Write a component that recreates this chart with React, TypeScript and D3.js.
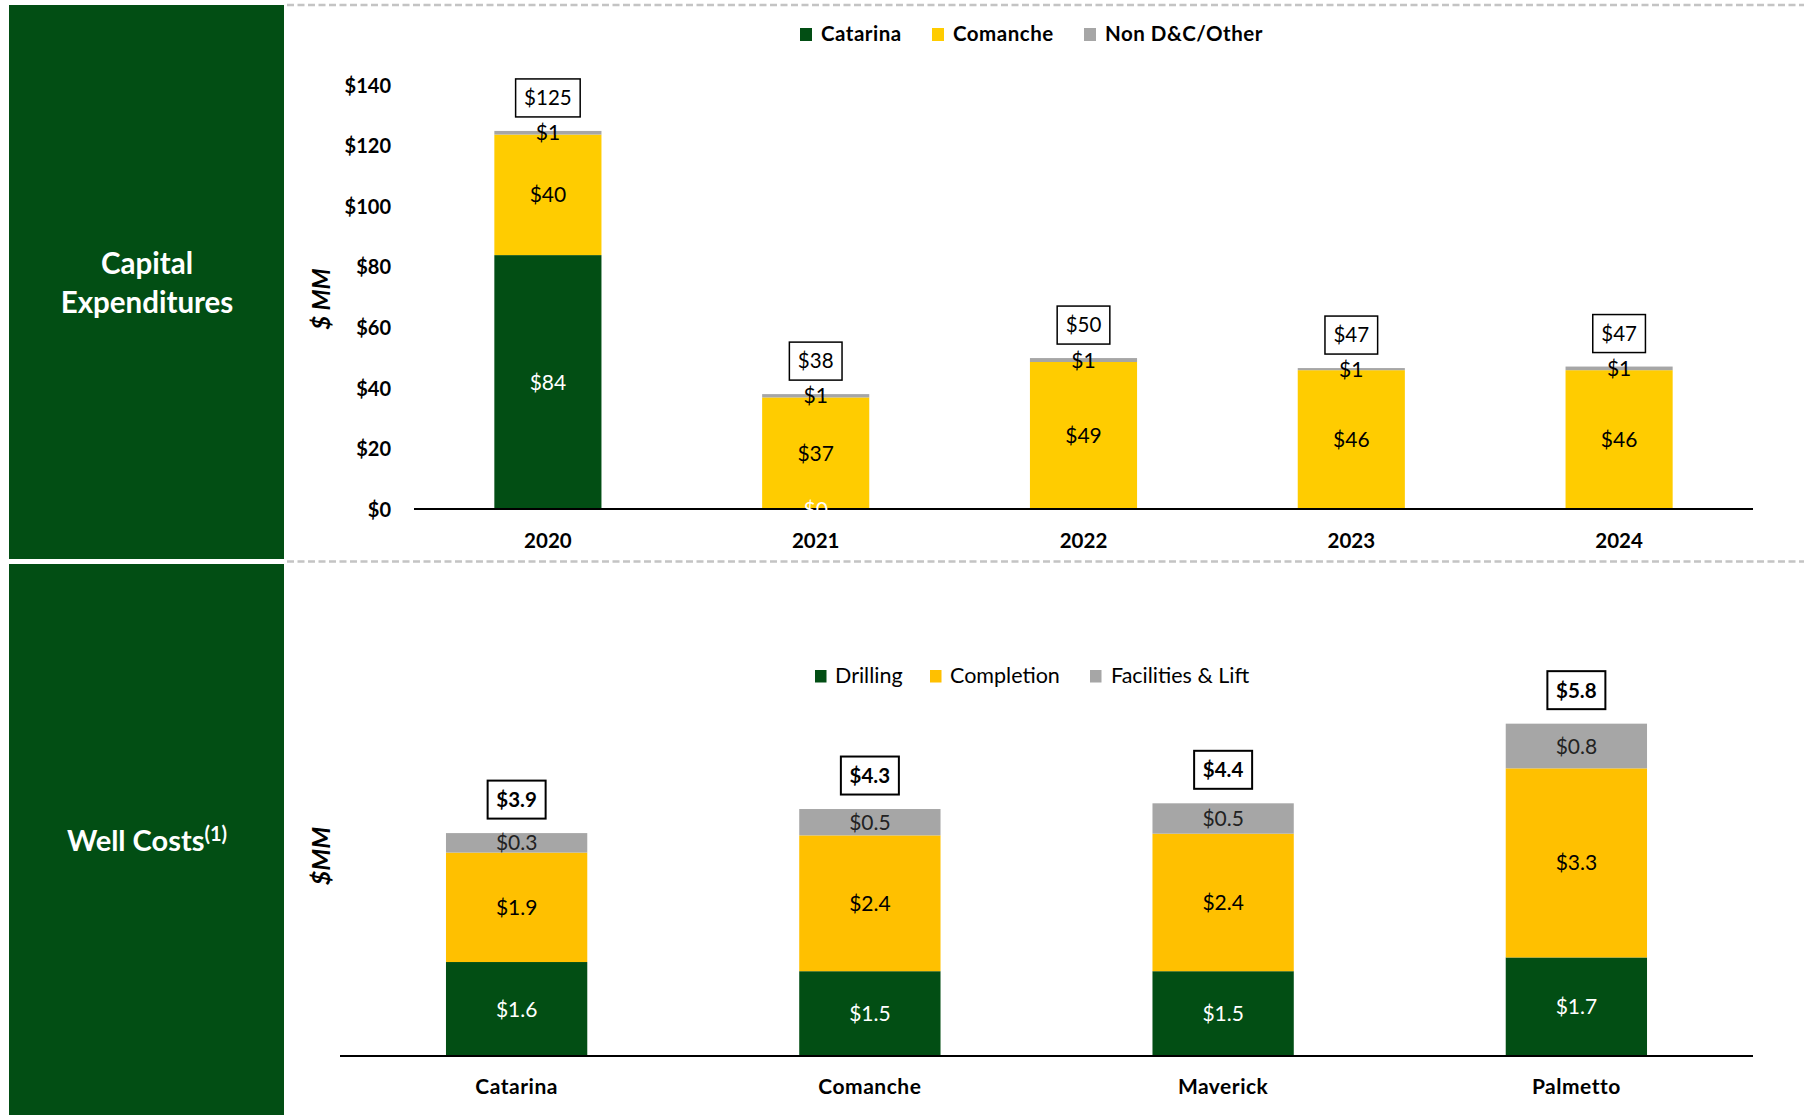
import React from "react";
import * as d3 from "d3";

// ---------- Data ----------
const years = ["2020", "2021", "2022", "2023", "2024"];
const catarina: (number | null)[] = [84, 0, null, null, null];
const comanche = [39.8, 37, 48.7, 46, 46.0];
const nonDC = [1.2, 1.1, 1.3, 0.7, 1.2];
const capexTicks = [0, 20, 40, 60, 80, 100, 120, 140];
const capexSeries = ["Catarina", "Comanche", "Non D&C/Other"];

const areas = ["Catarina", "Comanche", "Maverick", "Palmetto"];
const drilling = [1.64, 1.48, 1.48, 1.72];
const completion = [1.91, 2.37, 2.4, 3.3];
const facilities = [0.34, 0.46, 0.53, 0.78];
const wellSeries = ["Drilling", "Completion", "Facilities & Lift"];

// ---------- Style ----------
const GREEN = "#024E14";
const YELLOW_TOP = "#FFCC00";
const YELLOW_BOT = "#FFC000";
const GREY = "#A6A6A6";
const FONT = "Lato, 'Open Sans', sans-serif";

const W = 1804;
const H = 1115;

function textWidth(s: string, fs: number) {
  let w = 0;
  for (const c of s) w += c === "." ? 0.26 : 0.58;
  return w * fs;
}

function TotalBox({ x, y, label, bold }: { x: number; y: number; label: string; bold: boolean }) {
  const fs = 20.5;
  const bw = textWidth(label, fs) + 17;
  const bh = 38;
  return (
    <g>
      <rect x={x - bw / 2} y={y - bh / 2} width={bw} height={bh} fill="#fff" stroke="#000" strokeWidth={bold ? 2 : 1.5} />
      <text x={x} y={y} dy="0.36em" textAnchor="middle" fontFamily={FONT} fontSize={fs} fontWeight={bold ? 700 : 400} fill="#000">
        {label}
      </text>
    </g>
  );
}

export default function App() {
  // ----- Top chart -----
  const xTop = d3.scaleBand<string>().domain(years).range([414, 1753]).paddingInner(0.6).paddingOuter(0.3);
  const yTop = d3.scaleLinear().domain([0, 140]).range([509.5, 85.5]);
  const topRows = years.map((yr, i) => ({
    year: yr,
    Catarina: catarina[i] ?? 0,
    Comanche: comanche[i],
    "Non D&C/Other": nonDC[i],
  }));
  const topStack = d3.stack<any>().keys(capexSeries)(topRows);
  const topColors = [GREEN, YELLOW_TOP, GREY];
  const topTextColors = ["#fff", "#000", "#000"];

  // ----- Bottom chart -----
  const xBot = d3.scaleBand<string>().domain(areas).range([340, 1753]).paddingInner(0.6).paddingOuter(0.3);
  const yBot = d3.scaleLinear().domain([0, 7]).range([1056, 1056 - 7 * 57.3]);
  const botRows = areas.map((a, i) => ({
    area: a,
    Drilling: drilling[i],
    Completion: completion[i],
    "Facilities & Lift": facilities[i],
  }));
  const botStack = d3.stack<any>().keys(wellSeries)(botRows);
  const botColors = [GREEN, YELLOW_BOT, GREY];
  const botTextColors = ["#fff", "#000", "#222"];

  const fmt0 = (v: number) => `$${Math.round(v)}`;
  const fmt1 = (v: number) => `$${d3.format(".1f")(v)}`;

  const topLegend = [
    { label: capexSeries[0], color: GREEN, sx: 800, tx: 821 },
    { label: capexSeries[1], color: YELLOW_TOP, sx: 932, tx: 953 },
    { label: capexSeries[2], color: GREY, sx: 1084, tx: 1105 },
  ];
  const botLegend = [
    { label: wellSeries[0], color: GREEN, sx: 815, tx: 835 },
    { label: wellSeries[1], color: YELLOW_BOT, sx: 930, tx: 950 },
    { label: wellSeries[2], color: GREY, sx: 1090, tx: 1111 },
  ];

  return (
    <svg width={W} height={H} style={{ position: "absolute", left: 0, top: 0, background: "#fff" }} fontFamily={FONT}>
      <rect x={0} y={0} width={W} height={H} fill="#fff" />
      {/* Left panels */}
      <rect x={9} y={5} width={275} height={554} fill={GREEN} />
      <rect x={9} y={564} width={275} height={H - 564} fill={GREEN} />
      <text x={147} y={274} textAnchor="middle" fill="#fff" fontSize={29.5} fontWeight={700}>Capital</text>
      <text x={147} y={313} textAnchor="middle" fill="#fff" fontSize={29.5} fontWeight={700}>Expenditures</text>
      <text x={147} y={851} textAnchor="middle" fill="#fff" fontSize={29} fontWeight={700}>
        Well Costs<tspan fontSize={20} dy={-10}>(1)</tspan>
      </text>

      {/* Dashed separators */}
      <line x1={287} x2={W} y1={5} y2={5} stroke="#C4C4C4" strokeWidth={2.5} strokeDasharray="7 3.5" />
      <line x1={287} x2={W} y1={561.5} y2={561.5} stroke="#C4C4C4" strokeWidth={2.5} strokeDasharray="7 3.5" />

      {/* ===== Top chart ===== */}
      {topLegend.map((l) => (
        <g key={l.label}>
          <rect x={l.sx} y={28} width={12} height={13} fill={l.color} />
          <text x={l.tx} y={34} dy="0.36em" fontSize={20.5} fontWeight={700} letterSpacing={0.5} fill="#000">{l.label}</text>
        </g>
      ))}
      {capexTicks.map((t) => (
        <text key={t} x={391} y={yTop(t)} dy="0.36em" textAnchor="end" fontSize={20} fontWeight={700} fill="#000">
          {`$${t}`}
        </text>
      ))}
      <text transform={`translate(321,299) rotate(-90)`} textAnchor="middle" dy="0.36em" fontSize={24} fontWeight={700} fontStyle="italic" fill="#000">
        $ MM
      </text>
      {topStack.map((s, si) => (
        <g key={s.key}>
          {s.map((d, i) => (
            <rect key={i} x={xTop(years[i])} y={yTop(d[1])} width={xTop.bandwidth()} height={yTop(d[0]) - yTop(d[1])} fill={topColors[si]} />
          ))}
        </g>
      ))}
      <line x1={414} x2={1753} y1={509} y2={509} stroke="#000" strokeWidth={2} />
      {topStack.map((s, si) => (
        <g key={"l" + s.key}>
          {s.map((d, i) => {
            const raw = si === 0 ? catarina[i] : si === 1 ? comanche[i] : nonDC[i];
            if (raw === null) return null;
            const cx = (xTop(years[i]) as number) + xTop.bandwidth() / 2;
            return (
              <text key={i} x={cx} y={yTop((d[0] + d[1]) / 2)} dy="0.36em" textAnchor="middle" fontSize={21} fill={topTextColors[si]}>
                {fmt0(raw)}
              </text>
            );
          })}
        </g>
      ))}
      {years.map((yr, i) => {
        const total = (catarina[i] ?? 0) + comanche[i] + nonDC[i];
        const cx = (xTop(yr) as number) + xTop.bandwidth() / 2;
        return <TotalBox key={yr} x={cx} y={yTop(total) - 33} label={fmt0(total)} bold={false} />;
      })}
      {years.map((yr) => (
        <text key={yr} x={(xTop(yr) as number) + xTop.bandwidth() / 2} y={540.5} dy="0.36em" textAnchor="middle" fontSize={20.5} fontWeight={700} fill="#000">
          {yr}
        </text>
      ))}

      {/* ===== Bottom chart ===== */}
      {botLegend.map((l) => (
        <g key={l.label}>
          <rect x={l.sx} y={670} width={11.5} height={12.5} fill={l.color} />
          <text x={l.tx} y={675.5} dy="0.36em" fontSize={21.5} fill="#000">{l.label}</text>
        </g>
      ))}
      <text transform={`translate(321,856) rotate(-90)`} textAnchor="middle" dy="0.36em" fontSize={25} fontWeight={700} fontStyle="italic" fill="#000">
        $MM
      </text>
      {botStack.map((s, si) => (
        <g key={s.key}>
          {s.map((d, i) => (
            <rect key={i} x={xBot(areas[i])} y={yBot(d[1])} width={xBot.bandwidth()} height={yBot(d[0]) - yBot(d[1])} fill={botColors[si]} />
          ))}
        </g>
      ))}
      <line x1={340} x2={1753} y1={1056} y2={1056} stroke="#000" strokeWidth={2} />
      {botStack.map((s, si) => (
        <g key={"l" + s.key}>
          {s.map((d, i) => {
            const cx = (xBot(areas[i]) as number) + xBot.bandwidth() / 2;
            return (
              <text key={i} x={cx} y={yBot((d[0] + d[1]) / 2)} dy="0.36em" textAnchor="middle" fontSize={21} fill={botTextColors[si]}>
                {fmt1(d[1] - d[0])}
              </text>
            );
          })}
        </g>
      ))}
      {areas.map((a, i) => {
        const total = drilling[i] + completion[i] + facilities[i];
        const cx = (xBot(a) as number) + xBot.bandwidth() / 2;
        return <TotalBox key={a} x={cx} y={yBot(total) - 33.5} label={fmt1(total)} bold={true} />;
      })}
      {areas.map((a) => (
        <text key={a} x={(xBot(a) as number) + xBot.bandwidth() / 2} y={1086} dy="0.36em" textAnchor="middle" fontSize={21} fontWeight={700} letterSpacing={0.5} fill="#000">
          {a}
        </text>
      ))}
    </svg>
  );
}
